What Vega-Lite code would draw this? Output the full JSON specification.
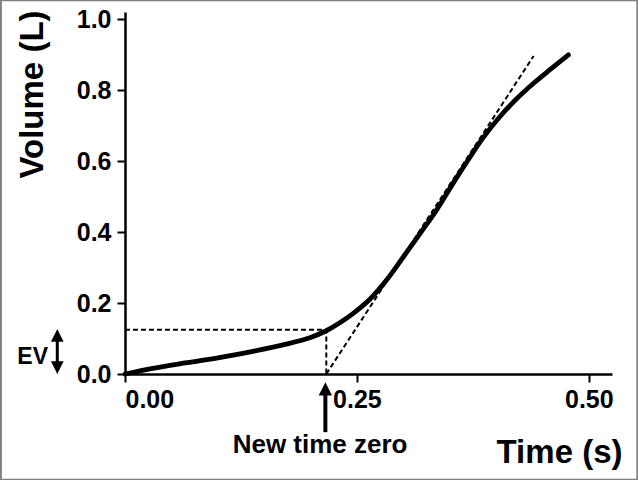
{
  "$schema": "https://vega.github.io/schema/vega-lite/v6.json",
  "autosize": "none",
  "width": 487,
  "height": 362,
  "padding": {"left": 125, "top": 12, "right": 26, "bottom": 106},
  "background": "white",
  "datasets": {
    "curve": [
      {"t": 0.0, "v": 0.0},
      {"t": 0.03, "v": 0.016},
      {"t": 0.067, "v": 0.032},
      {"t": 0.103, "v": 0.047},
      {"t": 0.138, "v": 0.064},
      {"t": 0.175, "v": 0.085},
      {"t": 0.2, "v": 0.103},
      {"t": 0.217, "v": 0.122},
      {"t": 0.232, "v": 0.145},
      {"t": 0.246, "v": 0.171},
      {"t": 0.264, "v": 0.211},
      {"t": 0.282, "v": 0.265},
      {"t": 0.3, "v": 0.33},
      {"t": 0.318, "v": 0.396},
      {"t": 0.336, "v": 0.463},
      {"t": 0.354, "v": 0.539},
      {"t": 0.372, "v": 0.612},
      {"t": 0.3865, "v": 0.668},
      {"t": 0.4045, "v": 0.727},
      {"t": 0.4225, "v": 0.777},
      {"t": 0.4405, "v": 0.82},
      {"t": 0.4585, "v": 0.859},
      {"t": 0.478, "v": 0.9}
    ],
    "guides": [
      {"seg": "tangent", "t": 0.217, "v": 0.0},
      {"seg": "tangent", "t": 0.4405, "v": 0.897},
      {"seg": "ev", "t": 0.0, "v": 0.125},
      {"seg": "ev", "t": 0.217, "v": 0.125},
      {"seg": "ev", "t": 0.217, "v": 0.0}
    ],
    "shafts": [
      {"name": "zero", "t": 0.216, "v1": -0.055, "v2": -0.164},
      {"name": "ev", "t": -0.073, "v1": 0.03, "v2": 0.1}
    ],
    "heads": [
      {"name": "zero", "dir": "up", "t": 0.216, "v": -0.042},
      {"name": "ev", "dir": "up", "t": -0.073, "v": 0.109},
      {"name": "ev", "dir": "down", "t": -0.073, "v": 0.018}
    ],
    "labels": [
      {"name": "zero", "t": 0.2103, "v": -0.224, "text": "New time zero"},
      {"name": "ev", "t": -0.083, "v": 0.029, "text": "EV"}
    ],
    "frame": [
      {"t1": -0.1338, "t2": 0.5523, "v1": -0.298, "v2": 1.054}
    ]
  },
  "encoding": {
    "x": {
      "field": "t",
      "type": "quantitative",
      "scale": {"domain": [0, 0.525], "nice": false, "zero": false},
      "axis": {
        "title": "Time (s)",
        "values": [0, 0.25, 0.5],
        "format": ".2f",
        "titleX": 497,
        "titleY": 88,
        "titleAlign": "right",
        "titleBaseline": "alphabetic",
        "titleFontSize": 33
      }
    },
    "y": {
      "field": "v",
      "type": "quantitative",
      "scale": {"domain": [0, 1.021], "nice": false, "zero": false},
      "axis": {
        "title": "Volume (L)",
        "values": [0, 0.2, 0.4, 0.6, 0.8, 1.0],
        "format": ".1f",
        "titleX": -93,
        "titleY": 82,
        "titleAngle": -90,
        "titleAlign": "center",
        "titleBaseline": "middle",
        "titleFontSize": 33
      }
    }
  },
  "layer": [
    {
      "data": {"name": "frame"},
      "mark": {"type": "rect", "fill": null, "stroke": "#808080", "strokeWidth": 2, "clip": false},
      "encoding": {
        "x": {"field": "t1", "type": "quantitative"},
        "x2": {"field": "t2"},
        "y": {"field": "v1", "type": "quantitative"},
        "y2": {"field": "v2"}
      }
    },
    {
      "data": {"name": "guides"},
      "mark": {"type": "line", "color": "black", "strokeWidth": 2, "strokeDash": [5, 3], "clip": false},
      "encoding": {"detail": {"field": "seg"}, "order": {"value": 0}}
    },
    {
      "data": {"name": "curve"},
      "mark": {"type": "line", "color": "black", "strokeWidth": 4.8, "interpolate": "catmull-rom", "strokeCap": "round"}
    },
    {
      "data": {"name": "shafts"},
      "mark": {"type": "rule", "color": "black", "clip": false},
      "encoding": {
        "y": {"field": "v1", "type": "quantitative"},
        "y2": {"field": "v2"},
        "strokeWidth": {"field": "name", "type": "nominal", "scale": {"domain": ["zero", "ev"], "range": [4, 3]}, "legend": null}
      }
    },
    {
      "data": {"name": "heads"},
      "mark": {"type": "point", "filled": true, "color": "black", "opacity": 1, "clip": false},
      "encoding": {
        "shape": {"field": "dir", "type": "nominal", "scale": {"domain": ["up", "down"], "range": ["M-1,1L0,-1L1,1Z", "M-1,-1L0,1L1,-1Z"]}, "legend": null},
        "size": {"field": "name", "type": "nominal", "scale": {"domain": ["zero", "ev"], "range": [177, 160]}, "legend": null}
      }
    },
    {
      "data": {"name": "labels"},
      "transform": [{"filter": "datum.name == 'zero'"}],
      "mark": {"type": "text", "font": "Liberation Sans", "fontWeight": "bold", "fontSize": 26, "align": "center", "baseline": "alphabetic", "clip": false},
      "encoding": {"text": {"field": "text"}}
    },
    {
      "data": {"name": "labels"},
      "transform": [{"filter": "datum.name == 'ev'"}],
      "mark": {"type": "text", "font": "Liberation Sans", "fontWeight": "bold", "fontSize": 23, "align": "right", "baseline": "alphabetic", "clip": false},
      "encoding": {"text": {"field": "text"}}
    }
  ],
  "config": {
    "view": {"stroke": null},
    "font": "Liberation Sans",
    "axis": {
      "grid": false,
      "domainColor": "black",
      "domainWidth": 2.5,
      "tickColor": "black",
      "tickWidth": 2,
      "tickSize": 8,
      "labelFont": "Liberation Sans",
      "labelFontWeight": "bold",
      "labelFontSize": 25,
      "labelColor": "black",
      "labelPadding": 6,
      "titleFont": "Liberation Sans",
      "titleFontWeight": "bold",
      "titleColor": "black"
    },
    "axisX": {"labelPadding": 5}
  }
}
